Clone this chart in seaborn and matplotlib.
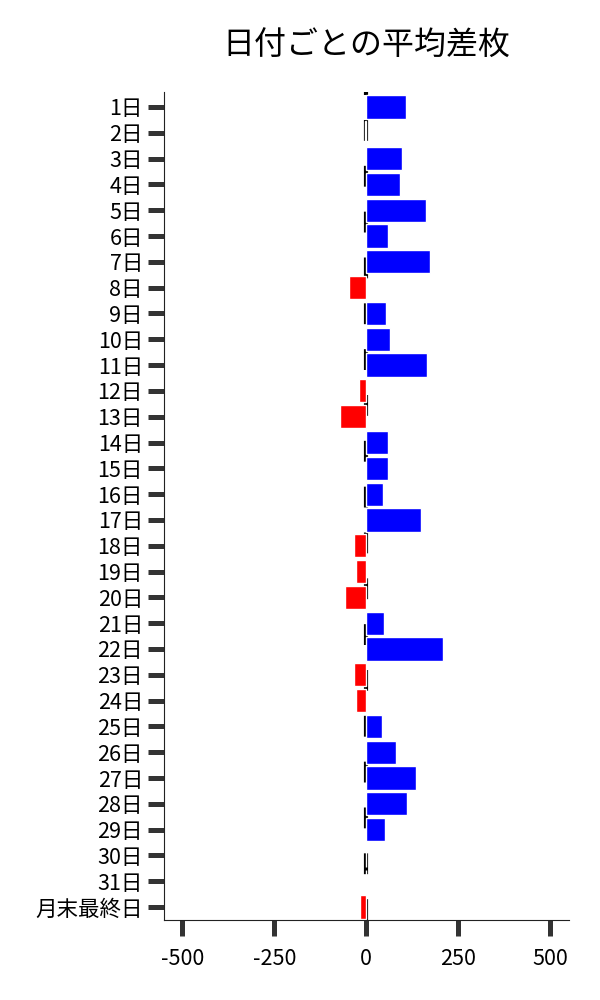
import matplotlib
matplotlib.use('Agg')
import matplotlib.pyplot as plt
import seaborn as sns
import pandas as pd

# 日付ラベル
days = [f'{i}日' for i in range(1, 32)] + ['月末最終日']

# 平均差枚
avg_diff = [109, -3, 98, 92, 163, 60, 174, -48, 54, 65,
            166, -21, -72, 60, 60, 46, 149, -34, -29, -59,
            49, 209, -34, -29, 43, 82, 136, 111, 52, -1,
            0.5, -18]

data = pd.DataFrame({'day': days, 'diff': avg_diff})
data['sign'] = ['pos' if v >= 0 else 'neg' for v in data['diff']]

sns.set_style('ticks')
plt.rcParams['font.family'] = ['Noto Sans CJK JP', 'DejaVu Sans']
plt.rcParams['axes.unicode_minus'] = False

fig, ax = plt.subplots(figsize=(6, 10), dpi=100)
fig.subplots_adjust(left=0.273, right=0.948, top=0.908, bottom=0.08)

ax.axvline(0, color='black', linestyle=(0, (5, 6)), linewidth=3, zorder=0)

sns.barplot(
    data=data,
    x='diff',
    y='day',
    hue='sign',
    palette={'pos': '#0000FF', 'neg': '#FF0000'},
    dodge=False,
    legend=False,
    width=0.9,
    saturation=1,
    ax=ax,
    zorder=2
)

ax.set_xlim(-550, 550)
ax.set_ylim(len(days) - 0.5, -0.58)
ax.set_xticks([-500, -250, 0, 250, 500])
ax.set_xlabel('')
ax.set_ylabel('')
ax.set_title('日付ごとの平均差枚', fontsize=23, pad=27, color='black')
ax.tick_params(axis='both', length=11.5, width=3.6, color='#333333',
               labelsize=15.5, labelcolor='black')
ax.tick_params(axis='x', pad=9)
for s in ax.spines.values():
    s.set_color('#222222')
sns.despine(ax=ax)

plt.savefig('out.png', dpi=100)
